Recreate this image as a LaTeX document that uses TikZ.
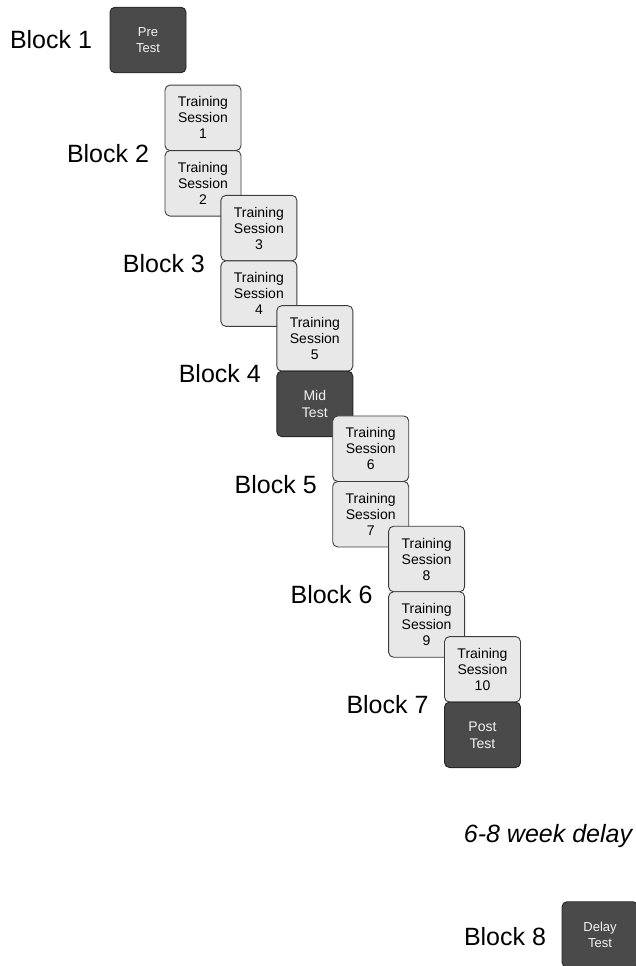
\documentclass[tikz,border=0pt]{standalone}
\usepackage{fontspec}
\setmainfont{Liberation Sans}
\definecolor{testfill}{HTML}{4A4A4A}
\definecolor{testline}{HTML}{262626}
\definecolor{testtext}{HTML}{F2F2F2}
\definecolor{sessfill}{HTML}{E8E8E8}
\definecolor{sessline}{HTML}{3C3C3C}
\begin{document}
\begin{tikzpicture}[x=1pt,y=-1pt,
  box/.style={rounded corners=5pt, line width=0.9pt, minimum width=76pt, minimum height=65.5pt,
    inner sep=0pt, align=center},
  sessbox/.style={box, fill=sessfill, draw=sessline, text=black,
    font=\fontsize{14}{16}\selectfont},
  testbox/.style={box, fill=testfill, draw=testline, text=testtext,
    font=\fontsize{14}{17}\selectfont},
  blocklabel/.style={font=\fontsize{25}{30}\selectfont, inner sep=0pt}]
\useasboundingbox (0,0) rectangle (636,966);
\clip (0,0) rectangle (636,966);

% Block 1: pre-test
\node[blocklabel] (b1) at (51,40) {Block 1};
\node[testbox, font=\fontsize{13}{16}\selectfont] (pre) at (148,40) {Pre\\Test};

% Blocks 2-7: two stacked boxes each, stepping down and right
\foreach \k/\top/\bot in {2/{Training\\Session\\1}/{Training\\Session\\2},
                          3/{Training\\Session\\3}/{Training\\Session\\4},
                          4/{Training\\Session\\5}/{},
                          5/{Training\\Session\\6}/{Training\\Session\\7},
                          6/{Training\\Session\\8}/{Training\\Session\\9},
                          7/{Training\\Session\\10}/{}} {
  \pgfmathsetmacro{\bx}{203+55.9*(\k-2)}
  \pgfmathsetmacro{\by}{117.8+110.3*(\k-2)}
  \node[blocklabel] (b\k) at ({\bx-95},{\by+35.5}) {Block \k};
  \node[sessbox] (s\k a) at (\bx,\by) {\top};
  \ifnum\k=4
    \node[testbox] (mid) at (\bx,{\by+65.5}) {Mid\\Test};
  \else\ifnum\k=7
    \node[testbox] (post) at (\bx,{\by+65.5}) {Post\\Test};
  \else
    \node[sessbox] (s\k b) at (\bx,{\by+65.5}) {\bot};
  \fi\fi
}

% Delay and follow-up test
\node[font=\fontsize{25}{30}\selectfont\itshape, inner sep=0pt] (delay) at (548,836) {6-8 week delay};
\node[blocklabel] (b8) at (505,937) {Block 8};
\node[testbox, font=\fontsize{13}{16}\selectfont] (dt) at (600,934.5) {Delay\\Test};
\end{tikzpicture}
\end{document}
